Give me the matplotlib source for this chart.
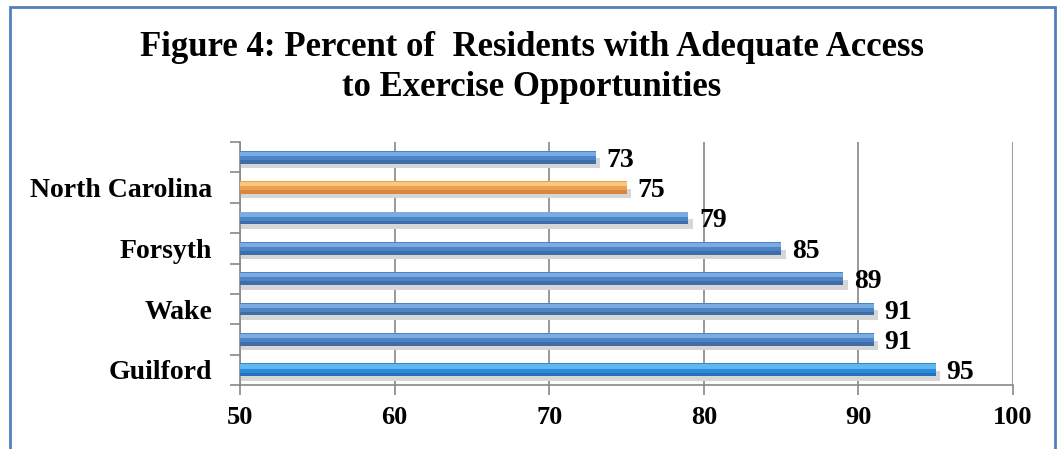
import matplotlib.pyplot as plt
from matplotlib.patches import Rectangle

# bottom to top
labels = ["Guilford", "", "Wake", "", "Forsyth", "", "North Carolina", ""]
values = [95, 91, 91, 89, 85, 79, 75, 73]
colors = ["#2b8bd8", "#4d84c6", "#4d84c6", "#4d84c6", "#4d84c6", "#4d84c6", "#eea050", "#4d84c6"]
highlights = ["#6ec4f6", "#88b6ea", "#88b6ea", "#88b6ea", "#88b6ea", "#88b6ea", "#fbd38c", "#88b6ea"]
shades = ["#1f62a8", "#35608f", "#35608f", "#35608f", "#35608f", "#35608f", "#c7783a", "#35608f"]

plt.rcParams["font.family"] = ["Liberation Serif", "DejaVu Serif"]
plt.rcParams["font.weight"] = "bold"

fig = plt.figure(figsize=(10.63, 4.49), dpi=100)
fig.patches.append(Rectangle((10 / 1063, -0.05), 1045 / 1063, 1 - 7 / 449 + 0.05,
                             transform=fig.transFigure, fill=False,
                             edgecolor="#4f81bd", linewidth=2))

fig.text(0.5, 1 - 48 / 449, "Figure 4: Percent of  Residents with Adequate Access",
         ha="center", va="center", fontsize=25, fontweight="bold")
fig.text(0.5, 1 - 88 / 449, "to Exercise Opportunities",
         ha="center", va="center", fontsize=25, fontweight="bold")

ax = fig.add_axes([240 / 1063, 1 - 385 / 449, (1013 - 240) / 1063, (385 - 142) / 449])
y = list(range(len(values)))

# shadow, bar body, highlight, dark lower edge
ax.barh([p - 0.2 for p in y], [v + 0.3 for v in values], height=0.32, color="#d6d6d6", zorder=2)
ax.barh(y, values, height=0.42, color=colors, zorder=3)
ax.barh([p + 0.11 for p in y], values, height=0.14, color=highlights, alpha=0.8, zorder=4)
ax.barh([p - 0.15 for p in y], values, height=0.12, color=shades, alpha=0.6, zorder=4)

for p, v in zip(y, values):
    ax.text(v + 0.7, p - 0.1, str(v), va="center", ha="left", fontsize=20, fontweight="bold")

ax.set_xlim(50, 100)
ax.set_ylim(-0.5, len(values) - 0.5)
ax.set_xticks([50, 60, 70, 80, 90, 100])
ax.set_yticks(y)
ax.set_yticklabels(labels)
ax.set_yticks([p - 0.5 for p in range(len(values) + 1)], minor=True)
ax.tick_params(axis="y", which="major", length=0, pad=20, labelsize=20)
ax.tick_params(axis="y", which="minor", length=7, color="#888888", width=1.2)
ax.tick_params(axis="x", length=7, color="#888888", width=1.2, labelsize=19, pad=8)
for lab in ax.get_xticklabels() + ax.get_yticklabels():
    lab.set_fontweight("bold")

ax.grid(axis="x", color="#888888", linewidth=1.2, zorder=1)
ax.set_axisbelow(True)
for s in ["top", "right"]:
    ax.spines[s].set_visible(False)
for s in ["left", "bottom"]:
    ax.spines[s].set_color("#888888")
    ax.spines[s].set_linewidth(1.2)

plt.savefig("out.png", dpi=100)
